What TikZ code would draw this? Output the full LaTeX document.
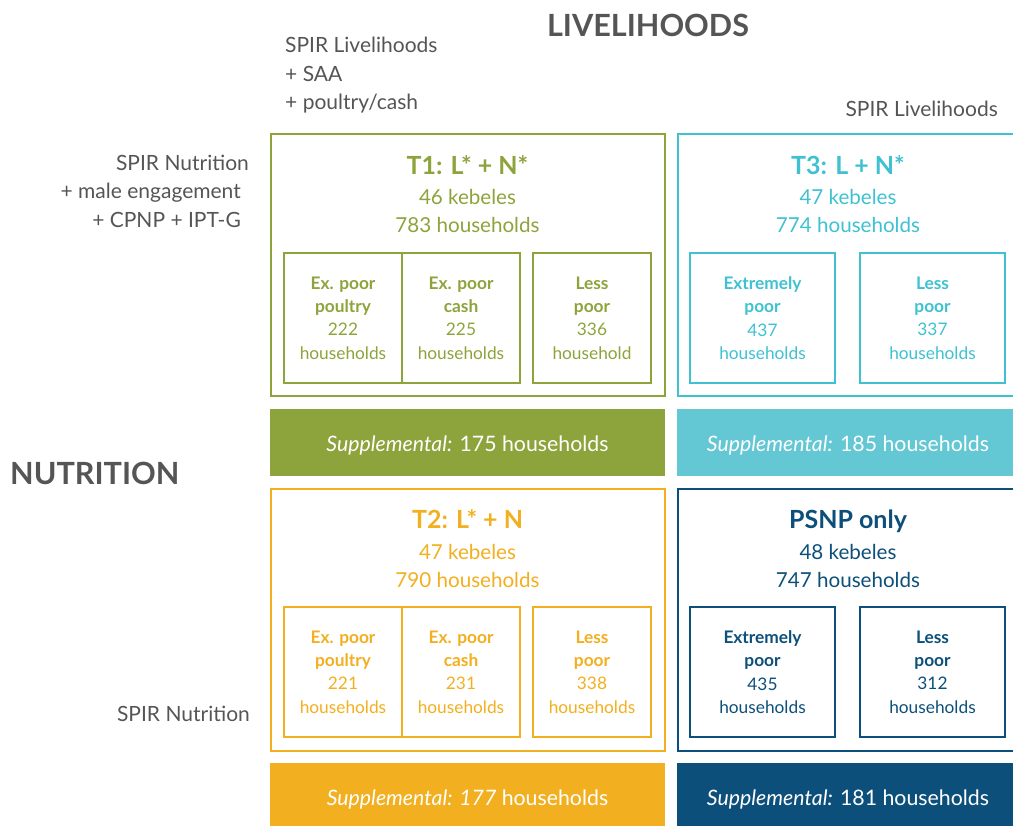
\documentclass[tikz,border=0pt]{standalone}
\usepackage{fontspec}
\setmainfont{Lato}
\usepackage{tikz}
\definecolor{tgreen}{HTML}{8DA33B}
\definecolor{tcyan}{HTML}{3EC1D1}
\definecolor{tcyanfill}{HTML}{63C7D4}
\definecolor{tgold}{HTML}{F2AF1F}
\definecolor{tblue}{HTML}{0C4F7A}
\definecolor{tgray}{HTML}{555555}
\tikzset{
  armbox/.style = {rectangle, draw, line width=2pt, inner sep=0pt},
  hhbox/.style = {rectangle, draw, line width=2pt, inner sep=0pt, align=center,
    font=\fontsize{17.3}{23.4}\selectfont},% poverty group box
  suppbox/.style = {rectangle, inner sep=0pt, text=white, text height=18pt, text depth=0pt,
    font=\fontsize{21.3}{26}\selectfont},% filled supplemental bar
  armtitle/.style = {anchor=base, inner sep=0pt, font=\fontsize{25}{30}\selectfont\bfseries},
  armtext/.style = {anchor=base, inner sep=0pt, font=\fontsize{20.6}{24}\selectfont},
  sidelabel/.style = {inner sep=0pt, text=tgray, font=\fontsize{21}{25}\selectfont},
  heading/.style = {inner sep=0pt, text=tgray, font=\fontsize{30.6}{36}\selectfont\bfseries}
}
\begin{document}
\begin{tikzpicture}[x=1pt,y=-1pt]
\useasboundingbox (0,0) rectangle (1013,826);
\clip (0,0) rectangle (1013,826);
% headings and arm labels
\node [heading, anchor=base] (livh) at (648,37) {LIVELIHOODS};
\node [heading, anchor=base west] (nutr) at (10,484) {NUTRITION};
\node [sidelabel, anchor=base west] (liv1) at (285,53) {SPIR Livelihoods};
\node [sidelabel, anchor=base west] (liv2) at (285,82) {+ SAA};
\node [sidelabel, anchor=base west] (liv3) at (285,110) {+ poultry/cash};
\node [sidelabel, anchor=base east] (livr) at (998,117) {SPIR Livelihoods};
\node [sidelabel, anchor=base east] (nut1) at (249,171) {SPIR Nutrition};
\node [sidelabel, anchor=base east] (nut2) at (241,199) {+ male engagement};
\node [sidelabel, anchor=base east] (nut3) at (241,228) {+ CPNP + IPT-G};
\node [sidelabel, anchor=base east] (nutb) at (250,721) {SPIR Nutrition};

% T1
\node [armbox, draw=tgreen, minimum width=394pt, minimum height=262pt] (t1) at (467.5,265.5) {};
\node [armtitle, text=tgreen] (t1title) at (467.5,175) {T1: L* + N*};
\node [armtext, text=tgreen] (t1keb) at (467.5,205) {46 kebeles};
\node [armtext, text=tgreen] (t1hh) at (467.5,233) {783 households};
\node [hhbox, draw=tgreen, text=tgreen, minimum width=118pt, minimum height=130pt] (t1a) at (343,318)
  {\textbf{Ex. poor}\\\textbf{poultry}\\222\\households};
\node [hhbox, draw=tgreen, text=tgreen, minimum width=118pt, minimum height=130pt] (t1b) at (461,318)
  {\textbf{Ex. poor}\\\textbf{cash}\\225\\households};
\node [hhbox, draw=tgreen, text=tgreen, minimum width=118pt, minimum height=130pt] (t1c) at (592,318)
  {\textbf{Less}\\\textbf{poor}\\336\\household};
\node [suppbox, fill=tgreen, minimum width=395pt, minimum height=67pt] (t1supp) at (467.5,442.5)
  {\textit{Supplemental:} 175 households};

% T3
\node [armbox, draw=tcyan, minimum width=341pt, minimum height=262pt] (t3) at (848,265.5) {};
\node [armtitle, text=tcyan] (t3title) at (848,175) {T3: L + N*};
\node [armtext, text=tcyan] (t3keb) at (848,205) {47 kebeles};
\node [armtext, text=tcyan] (t3hh) at (848,233) {774 households};
\node [hhbox, draw=tcyan, text=tcyan, minimum width=145pt, minimum height=130pt] (t3a) at (762.5,318)
  {\textbf{Extremely}\\\textbf{poor}\\437\\households};
\node [hhbox, draw=tcyan, text=tcyan, minimum width=145pt, minimum height=130pt] (t3b) at (932.5,318)
  {\textbf{Less}\\\textbf{poor}\\337\\households};
\node [suppbox, fill=tcyanfill, minimum width=342pt, minimum height=67pt] (t3supp) at (848,442.5)
  {\textit{Supplemental:} 185 households};

% T2
\node [armbox, draw=tgold, minimum width=394pt, minimum height=262pt] (t2) at (467.5,619.5) {};
\node [armtitle, text=tgold] (t2title) at (467.5,529) {T2: L* + N};
\node [armtext, text=tgold] (t2keb) at (467.5,559) {47 kebeles};
\node [armtext, text=tgold] (t2hh) at (467.5,587) {790 households};
\node [hhbox, draw=tgold, text=tgold, minimum width=118pt, minimum height=130pt] (t2a) at (343,672)
  {\textbf{Ex. poor}\\\textbf{poultry}\\221\\households};
\node [hhbox, draw=tgold, text=tgold, minimum width=118pt, minimum height=130pt] (t2b) at (461,672)
  {\textbf{Ex. poor}\\\textbf{cash}\\231\\households};
\node [hhbox, draw=tgold, text=tgold, minimum width=118pt, minimum height=130pt] (t2c) at (592,672)
  {\textbf{Less}\\\textbf{poor}\\338\\households};
\node [suppbox, fill=tgold, minimum width=395pt, minimum height=67pt] (t2supp) at (467.5,796.5)
  {\textit{Supplemental: 177} households};

% PSNP only
\node [armbox, draw=tblue, minimum width=341pt, minimum height=262pt] (ps) at (848,619.5) {};
\node [armtitle, text=tblue] (pstitle) at (848,529) {PSNP only};
\node [armtext, text=tblue] (pskeb) at (848,559) {48 kebeles};
\node [armtext, text=tblue] (pshh) at (848,587) {747 households};
\node [hhbox, draw=tblue, text=tblue, minimum width=145pt, minimum height=130pt] (psa) at (762.5,672)
  {\textbf{Extremely}\\\textbf{poor}\\435\\households};
\node [hhbox, draw=tblue, text=tblue, minimum width=145pt, minimum height=130pt] (psb) at (932.5,672)
  {\textbf{Less}\\\textbf{poor}\\312\\households};
\node [suppbox, fill=tblue, minimum width=342pt, minimum height=67pt] (pssupp) at (848,796.5)
  {\textit{Supplemental:} 181 households};
\end{tikzpicture}
\end{document}
